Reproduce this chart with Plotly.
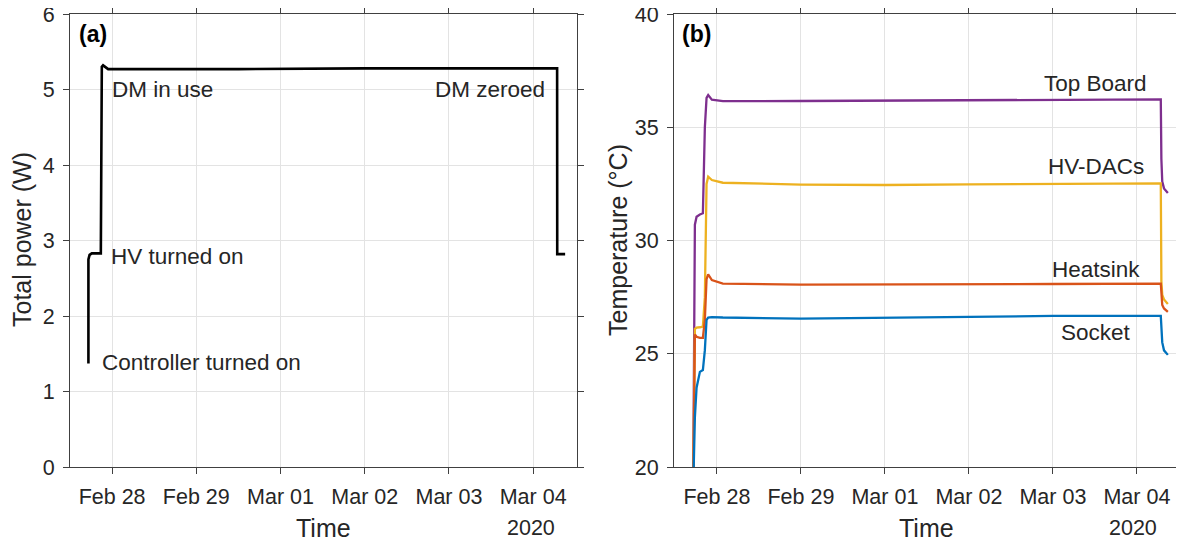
import plotly.graph_objects as go

# ---------------- data ----------------
power_time = ["2020-02-27 17:15", "2020-02-27 17:15", "2020-02-27 17:35", "2020-02-27 18:13",
              "2020-02-27 20:47", "2020-02-27 21:04", "2020-02-27 21:26", "2020-02-27 22:52",
              "2020-02-29 12:00", "2020-03-02 00:00", "2020-03-04 06:50", "2020-03-04 06:52",
              "2020-03-04 09:07"]
power_w = [1.37, 2.75, 2.81, 2.83, 2.83, 5.30, 5.32, 5.27, 5.27, 5.28, 5.28, 2.82, 2.82]

temp_time = ["2020-02-27 17:14", "2020-02-27 17:43", "2020-02-27 18:12", "2020-02-27 18:34",
             "2020-02-27 19:09", "2020-02-27 20:00", "2020-02-27 20:34", "2020-02-27 21:03",
             "2020-02-27 21:31", "2020-02-27 22:34", "2020-02-28 01:43", "2020-02-29 00:00",
             "2020-03-01 00:00", "2020-03-02 00:00", "2020-03-03 00:00", "2020-03-04 06:50",
             "2020-03-04 07:00", "2020-03-04 07:15", "2020-03-04 07:45", "2020-03-04 08:51"]
top_board = [19.0, 30.7, 31.05, 31.1, 31.15, 31.2, 35.0, 36.3, 36.42, 36.22, 36.15, 36.16,
             36.17, 36.2, 36.22, 36.23, 33.6, 32.6, 32.3, 32.1]
hv_dacs = [19.0, 26.1, 26.15, 26.15, 26.17, 26.2, 27.5, 32.5, 32.82, 32.67, 32.55, 32.47,
           32.45, 32.48, 32.5, 32.52, 28.2, 27.6, 27.4, 27.2]
heatsink = [19.0, 25.85, 25.75, 25.72, 25.7, 25.7, 26.5, 28.3, 28.5, 28.25, 28.1, 28.05,
            28.05, 28.07, 28.08, 28.1, 27.5, 27.15, 27.0, 26.85]
socket = [19.0, 22.2, 23.5, 23.84, 24.2, 24.28, 25.16, 26.5, 26.6, 26.62, 26.6, 26.55,
          26.6, 26.65, 26.67, 26.67, 26.0, 25.5, 25.15, 24.95]

tick_dates = ["2020-02-28", "2020-02-29", "2020-03-01", "2020-03-02", "2020-03-03", "2020-03-04"]
tick_text = ["Feb 28", "Feb 29", "Mar 01", "Mar 02", "Mar 03", "Mar 04"]

power_labels = ["DM in use", "DM zeroed", "HV turned on", "Controller turned on"]
power_label_x = ["2020-02-27 23:26", "2020-03-04 04:00", "2020-02-27 23:09", "2020-02-27 20:35"]
power_label_y = [5.0, 5.0, 2.79, 1.39]
power_label_anchor = ["left", "right", "left", "left"]

temp_labels = ["Top Board", "HV-DACs", "Heatsink", "Socket"]
temp_label_x = "2020-03-03 12:17"
temp_label_y = [36.91, 33.25, 28.74, 25.96]

colors = {"Top Board": "#7E2F8E", "HV-DACs": "#EDB120", "Heatsink": "#D95319", "Socket": "#0072BD"}

# ---------------- figure ----------------
OFF = 8  # default page body margin
W, H = 1184 - OFF, 544 - OFF
FONT = "Liberation Sans, Arial, sans-serif"
TXT = "#262626"
AX = "#404040"
GRID = "#e3e3e3"
FS = 22.5
FTICK = 21.5
FT = 25

fig = go.Figure()
fig.add_trace(go.Scatter(x=power_time, y=power_w, mode="lines",
                         line=dict(color="black", width=2.6), xaxis="x", yaxis="y",
                         showlegend=False))
for name, vals in [("Top Board", top_board), ("HV-DACs", hv_dacs),
                   ("Heatsink", heatsink), ("Socket", socket)]:
    fig.add_trace(go.Scatter(x=temp_time, y=vals, mode="lines", name=name,
                             line=dict(color=colors[name], width=2.3),
                             xaxis="x2", yaxis="y2", showlegend=False))

def px_x(p):
    return (p - OFF) / W

def px_y(p):
    return (H - (p - OFF)) / H

xcommon = dict(type="date", tickvals=tick_dates, ticktext=tick_text, showgrid=True,
               gridcolor=GRID, gridwidth=1, showline=True, linecolor=AX, linewidth=1,
               mirror="ticks", ticks="outside", ticklen=6, tickcolor=AX, automargin=False,
               ticklabelstandoff=4, ticklabeloverflow="allow",
               tickfont=dict(family=FONT, size=FTICK, color=TXT), zeroline=False)
ycommon = dict(showgrid=True, gridcolor=GRID, gridwidth=1, showline=True, linecolor=AX,
               linewidth=1, mirror="ticks", ticks="outside", ticklen=6, tickcolor=AX,
               automargin=False, ticklabelstandoff=4, ticklabeloverflow="allow",
               tickfont=dict(family=FONT, size=FTICK, color=TXT), zeroline=False)

fig.update_layout(
    width=W, height=H, margin=dict(l=0, r=0, t=0, b=0, autoexpand=False),
    paper_bgcolor="white", plot_bgcolor="white",
    xaxis=dict(xcommon, domain=[px_x(70), px_x(577)], anchor="y",
               range=["2020-02-27 12:00", "2020-03-04 12:30"]),
    yaxis=dict(ycommon, domain=[px_y(467), px_y(14)], anchor="x", range=[0, 6],
               tickvals=[0, 1, 2, 3, 4, 5, 6]),
    xaxis2=dict(xcommon, domain=[px_x(674), px_x(1178)], anchor="y2",
                range=["2020-02-27 11:45", "2020-03-04 11:45"]),
    yaxis2=dict(ycommon, domain=[px_y(467), px_y(14)], anchor="x2", range=[20, 40],
                tickvals=[20, 25, 30, 35, 40]),
)

ann = []
for t, xv, yv, anc in zip(power_labels, power_label_x, power_label_y, power_label_anchor):
    ann.append(dict(text=t, x=xv, y=yv, xref="x", yref="y", xanchor=anc, yanchor="middle",
                    showarrow=False, font=dict(family=FONT, size=FS, color=TXT)))
for t, yv in zip(temp_labels, temp_label_y):
    ann.append(dict(text=t, x=temp_label_x, y=yv, xref="x2", yref="y2", xanchor="center",
                    yanchor="middle", showarrow=False, font=dict(family=FONT, size=FS, color=TXT)))
# panel letters
ann.append(dict(text="<b>(a)</b>", x=px_x(77), y=px_y(34), xref="paper", yref="paper",
                xanchor="left", yanchor="middle", showarrow=False,
                font=dict(family=FONT, size=23, color="black")))
ann.append(dict(text="<b>(b)</b>", x=px_x(680), y=px_y(34), xref="paper", yref="paper",
                xanchor="left", yanchor="middle", showarrow=False,
                font=dict(family=FONT, size=23, color="black")))
# x titles and year
for cx, yr in [(323.5, 530.5), (926, 1133)]:
    ann.append(dict(text="Time", x=px_x(cx), y=px_y(528), xref="paper", yref="paper",
                    xanchor="center", yanchor="middle", showarrow=False,
                    font=dict(family=FONT, size=FT, color=TXT)))
    ann.append(dict(text="2020", x=px_x(yr), y=px_y(528), xref="paper", yref="paper",
                    xanchor="center", yanchor="middle", showarrow=False,
                    font=dict(family=FONT, size=FTICK, color=TXT)))
# y titles
ann.append(dict(text="Total power (W)", x=px_x(22), y=px_y(240), xref="paper", yref="paper",
                xanchor="center", yanchor="middle", textangle=-90, showarrow=False,
                font=dict(family=FONT, size=FT, color=TXT)))
ann.append(dict(text="Temperature (°C)", x=px_x(618), y=px_y(240), xref="paper", yref="paper",
                xanchor="center", yanchor="middle", textangle=-90, showarrow=False,
                font=dict(family=FONT, size=FT, color=TXT)))
fig.update_layout(annotations=ann)

fig.write_html("out.html")
